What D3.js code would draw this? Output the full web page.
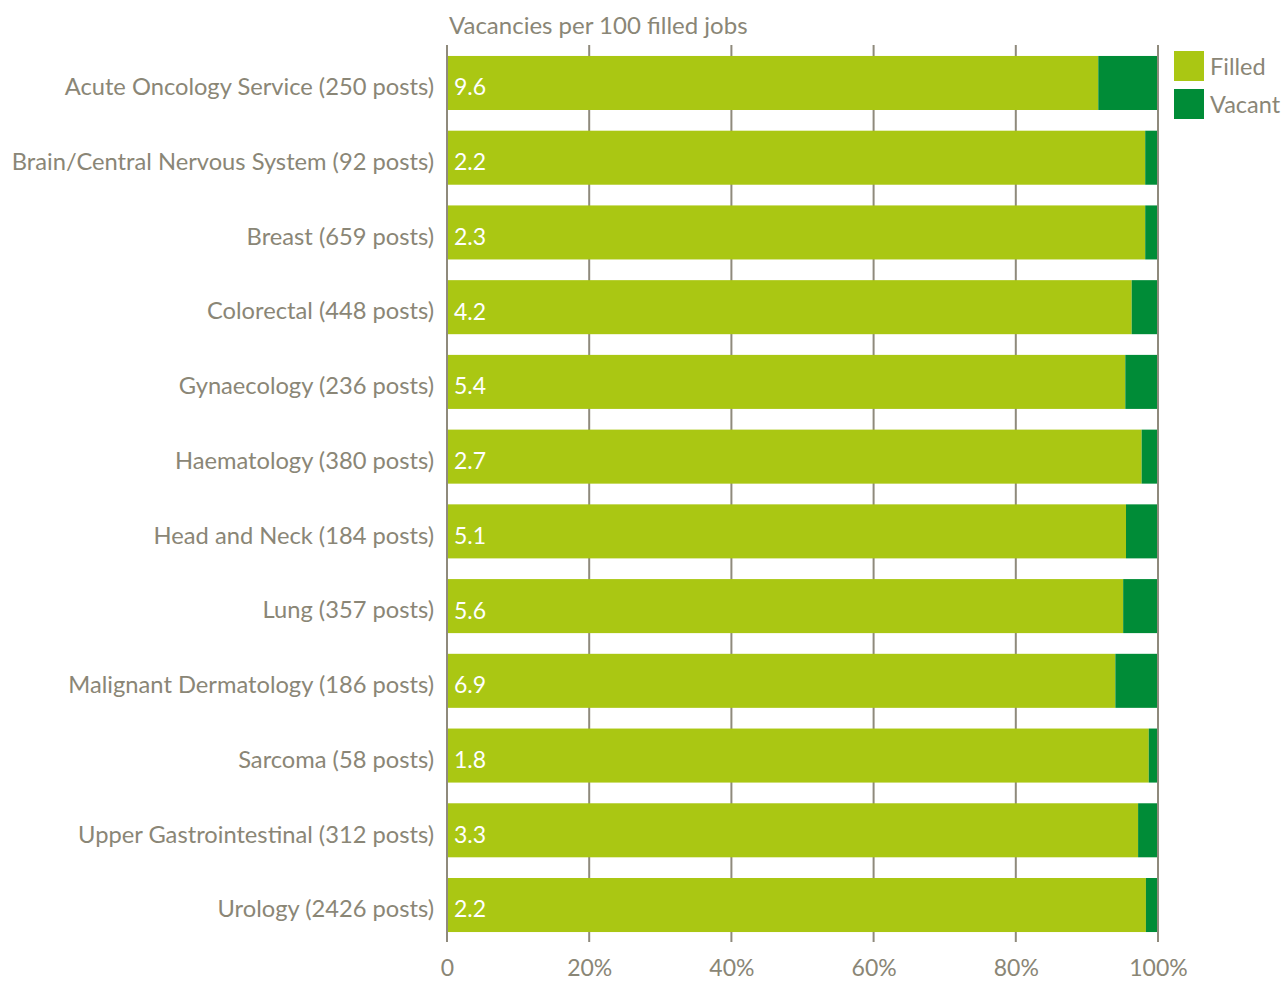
<!DOCTYPE html>
<html>
<head>
<meta charset="utf-8">
<script src="https://cdn.jsdelivr.net/npm/d3@7"></script>
<style>
  body { margin: 0; background: #fff; }
  text { font-family: "Lato", "Liberation Sans", sans-serif; }
</style>
</head>
<body>
<div id="chart"></div>
<script>
// Specialties shown on the y axis
const categories = [
  "Acute Oncology Service (250 posts)",
  "Brain/Central Nervous System (92 posts)",
  "Breast (659 posts)",
  "Colorectal (448 posts)",
  "Gynaecology (236 posts)",
  "Haematology (380 posts)",
  "Head and Neck (184 posts)",
  "Lung (357 posts)",
  "Malignant Dermatology (186 posts)",
  "Sarcoma (58 posts)",
  "Upper Gastrointestinal (312 posts)",
  "Urology (2426 posts)"
];

// Vacancies per 100 filled jobs (labels inside bars)
const vacancyRate = [9.6, 2.2, 2.3, 4.2, 5.4, 2.7, 5.1, 5.6, 6.9, 1.8, 3.3, 2.2];

// Share of posts (%)
const filled = [91.6, 98.2, 98.2, 96.3, 95.4, 97.7, 95.5, 95.1, 94.0, 98.7, 97.2, 98.3];
const vacant = [8.4, 1.8, 1.8, 3.7, 4.6, 2.3, 4.5, 4.9, 6.0, 1.3, 2.8, 1.7];

const xTicks = [0, 20, 40, 60, 80, 100];
const xTickLabels = ["0", "20%", "40%", "60%", "80%", "100%"];

const seriesNames = ["Filled", "Vacant"];
const colors = ["#aac713", "#008c37"];
const textColor = "#8a8676";
const lineColor = "#8f8a7c";

const width = 1283, height = 983;

const data = categories.map((c, i) => ({ category: c, Filled: filled[i], Vacant: vacant[i], rate: vacancyRate[i] }));

const x = d3.scaleLinear().domain([0, 100]).range([447, 1158]);
const y = d3.scaleBand().domain(categories).range([45.5, 942.5]).paddingInner(0.277).paddingOuter(0.14);

const svg = d3.select("#chart").append("svg")
  .attr("width", width)
  .attr("height", height);

// Vertical gridlines (behind bars)
svg.append("g")
  .selectAll("line")
  .data(xTicks.filter(t => t > 0 && t < 100))
  .join("line")
  .attr("x1", d => x(d)).attr("x2", d => x(d))
  .attr("y1", 45).attr("y2", 942)
  .attr("stroke", lineColor)
  .attr("stroke-width", 2);

// Stacked bars
const stack = d3.stack().keys(seriesNames)(data);
const color = d3.scaleOrdinal().domain(seriesNames).range(colors);

svg.append("g")
  .selectAll("g")
  .data(stack)
  .join("g")
  .attr("fill", d => color(d.key))
  .selectAll("rect")
  .data(d => d)
  .join("rect")
  .attr("x", d => x(d[0]))
  .attr("y", d => y(d.data.category))
  .attr("width", d => x(d[1]) - x(d[0]))
  .attr("height", y.bandwidth());

// 0 and 100% axis lines on top
svg.append("g")
  .selectAll("line")
  .data([0, 100])
  .join("line")
  .attr("x1", d => x(d)).attr("x2", d => x(d))
  .attr("y1", 45).attr("y2", 942)
  .attr("stroke", lineColor)
  .attr("stroke-width", 2);

// Value labels inside bars
svg.append("g")
  .selectAll("text")
  .data(data)
  .join("text")
  .attr("x", x(0) + 7)
  .attr("y", d => y(d.category) + y.bandwidth() / 2)
  .attr("dy", "0.54em")
  .attr("fill", "#fff")
  .attr("font-size", 23)
  .text(d => d.rate.toFixed(1));

// Y axis labels
const yAxis = svg.append("g")
  .attr("transform", `translate(${x(0)},0)`)
  .call(d3.axisLeft(y).tickSize(0).tickPadding(13));
yAxis.select(".domain").remove();
yAxis.selectAll("text")
  .attr("fill", textColor)
  .attr("font-size", 23.7)
  .attr("dy", "0.52em")
  .style("font-family", "Lato, 'Liberation Sans', sans-serif");

// X axis labels
const xAxis = svg.append("g")
  .attr("transform", "translate(0,942)")
  .call(d3.axisBottom(x).tickValues(xTicks).tickFormat((d, i) => xTickLabels[i]).tickSize(0).tickPadding(18));
xAxis.select(".domain").remove();
xAxis.selectAll("text")
  .attr("fill", textColor)
  .attr("font-size", 23)
  .style("font-family", "Lato, 'Liberation Sans', sans-serif");

// Title
svg.append("text")
  .attr("x", 449)
  .attr("y", 34)
  .attr("fill", textColor)
  .attr("font-size", 24)
  .text("Vacancies per 100 filled jobs");

// Legend
const legend = svg.append("g")
  .selectAll("g")
  .data(seriesNames)
  .join("g")
  .attr("transform", (d, i) => `translate(1174,${51 + i * 38})`);
legend.append("rect")
  .attr("width", 30).attr("height", 30)
  .attr("fill", d => color(d));
legend.append("text")
  .attr("x", 36).attr("y", 15)
  .attr("dy", "0.38em")
  .attr("fill", textColor)
  .attr("font-size", 23.5)
  .text(d => d);
</script>
</body>
</html>
